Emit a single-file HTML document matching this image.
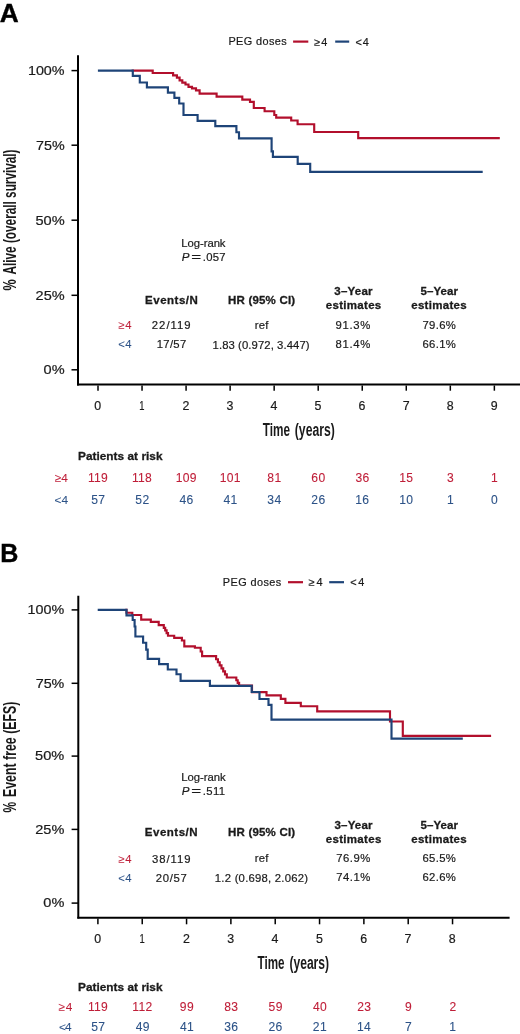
<!DOCTYPE html>
<html><head><meta charset="utf-8"><title>Kaplan-Meier curves</title>
<style>
html,body{margin:0;padding:0;background:#fff;}
body{width:520px;height:1034px;overflow:hidden;}
svg{display:block;will-change:transform;font-family:"Liberation Sans",sans-serif;fill:#1a1a1a;}

</style></head><body>
<svg width="520" height="1034" viewBox="0 0 520 1034" fill="#1a1a1a">
<text x="-0.36" y="21.60" font-size="25.8" textLength="18.97" lengthAdjust="spacingAndGlyphs" font-weight="bold" fill="#000" stroke="#000" stroke-width="0.4">A</text>
<text x="228.43" y="45.20" font-size="10.9" textLength="58.23" lengthAdjust="spacing" stroke="#1a1a1a" stroke-width="0.2">PEG doses</text>
<line x1="293.1" y1="41.6" x2="308.3" y2="41.6" stroke="#b20f2c" stroke-width="2.2"/>
<text x="314.27" y="45.60" font-size="10.9" textLength="13.15" lengthAdjust="spacing" stroke="#1a1a1a" stroke-width="0.2">≥4</text>
<line x1="335.2" y1="41.6" x2="349.2" y2="41.6" stroke="#1e4478" stroke-width="2.2"/>
<text x="355.45" y="45.60" font-size="10.9" textLength="13.37" lengthAdjust="spacing" stroke="#1a1a1a" stroke-width="0.2">&lt;4</text>
<line x1="78" y1="55.3" x2="78" y2="385.5" stroke="#000" stroke-width="2"/>
<line x1="77" y1="384.5" x2="520" y2="384.5" stroke="#000" stroke-width="2"/>
<line x1="71.5" y1="70.6" x2="78" y2="70.6" stroke="#000" stroke-width="1.5"/>
<line x1="71.5" y1="145.2" x2="78" y2="145.2" stroke="#000" stroke-width="1.5"/>
<line x1="71.5" y1="220.2" x2="78" y2="220.2" stroke="#000" stroke-width="1.5"/>
<line x1="71.5" y1="295.3" x2="78" y2="295.3" stroke="#000" stroke-width="1.5"/>
<line x1="71.5" y1="369.8" x2="78" y2="369.8" stroke="#000" stroke-width="1.5"/>
<text x="27.93" y="74.90" font-size="12.6" textLength="36.64" lengthAdjust="spacingAndGlyphs" stroke="#1a1a1a" stroke-width="0.2">100%</text>
<text x="35.98" y="149.50" font-size="12.6" textLength="28.64" lengthAdjust="spacingAndGlyphs" stroke="#1a1a1a" stroke-width="0.2">75%</text>
<text x="35.42" y="224.50" font-size="12.6" textLength="29.22" lengthAdjust="spacingAndGlyphs" stroke="#1a1a1a" stroke-width="0.2">50%</text>
<text x="35.57" y="299.60" font-size="12.6" textLength="29.06" lengthAdjust="spacingAndGlyphs" stroke="#1a1a1a" stroke-width="0.2">25%</text>
<text x="43.62" y="374.10" font-size="12.6" textLength="20.99" lengthAdjust="spacingAndGlyphs" stroke="#1a1a1a" stroke-width="0.2">0%</text>
<line x1="98.0" y1="385.5" x2="98.0" y2="390.7" stroke="#000" stroke-width="1.5"/>
<line x1="142.04" y1="385.5" x2="142.04" y2="390.7" stroke="#000" stroke-width="1.5"/>
<line x1="186.07999999999998" y1="385.5" x2="186.07999999999998" y2="390.7" stroke="#000" stroke-width="1.5"/>
<line x1="230.12" y1="385.5" x2="230.12" y2="390.7" stroke="#000" stroke-width="1.5"/>
<line x1="274.15999999999997" y1="385.5" x2="274.15999999999997" y2="390.7" stroke="#000" stroke-width="1.5"/>
<line x1="318.2" y1="385.5" x2="318.2" y2="390.7" stroke="#000" stroke-width="1.5"/>
<line x1="362.24" y1="385.5" x2="362.24" y2="390.7" stroke="#000" stroke-width="1.5"/>
<line x1="406.28" y1="385.5" x2="406.28" y2="390.7" stroke="#000" stroke-width="1.5"/>
<line x1="450.32" y1="385.5" x2="450.32" y2="390.7" stroke="#000" stroke-width="1.5"/>
<line x1="494.36" y1="385.5" x2="494.36" y2="390.7" stroke="#000" stroke-width="1.5"/>
<text transform="translate(15.60,290.42) rotate(-90)" x="0" y="0" font-weight="bold" font-size="18.4" textLength="11.22" lengthAdjust="spacingAndGlyphs" stroke="#1a1a1a" stroke-width="0">%</text>
<text transform="translate(15.60,274.49) rotate(-90)" x="0" y="0" font-weight="bold" font-size="18.4" textLength="125.04" lengthAdjust="spacingAndGlyphs" stroke="#1a1a1a" stroke-width="0">Alive (overall survival)</text>
<text x="262.78" y="435.60" font-size="18.0" textLength="27.24" lengthAdjust="spacingAndGlyphs" font-weight="bold">Time</text>
<text x="294.79" y="435.60" font-size="18.0" textLength="40.02" lengthAdjust="spacingAndGlyphs" font-weight="bold">(years)</text>
<path d="M131.6 70.6 H152.7 V73.0 H173.1 V75.3 H176.9 V77.6 H179.6 V80.3 H182.3 V82.6 H185.5 V84.5 H188.5 V86.8 H192 V88.4 H196 V90.3 H199.6 V93.6 H216.6 V96.6 H242.3 V99.6 H250 V101.9 H253.8 V108 H264.6 V111.2 H274.3 V115 H276.2 V117.6 H291.2 V120.5 H297.6 V124.2 H314.2 V132 H358.2 V138.1 H499.8" fill="none" stroke="#b20f2c" stroke-width="2.15" stroke-linejoin="miter" stroke-linecap="butt"/>
<path d="M97.9 70.6 H132.8 V75.8 H139.8 V82.5 H146.9 V87.4 H167.9 V92.6 H174.4 V97.8 H179.2 V103.5 H183.5 V115 H197.6 V120.8 H215.3 V126.1 H236.4 V132.2 H239 V138.3 H271.6 V151.3 H272.9 V156.9 H297.7 V163.9 H310.2 V171.8 H482.7" fill="none" stroke="#1e4478" stroke-width="2.15" stroke-linejoin="miter" stroke-linecap="butt"/>
<text x="181.20" y="247.30" font-size="11.3" textLength="44.33" lengthAdjust="spacing" stroke="#1a1a1a" stroke-width="0.2">Log-rank</text>
<text x="181.85" y="261.00" font-size="11.3" textLength="7.73" lengthAdjust="spacingAndGlyphs" font-style="italic" stroke="#1a1a1a" stroke-width="0.2">P</text>
<text x="191.15" y="261.00" font-size="11.3" textLength="9.87" lengthAdjust="spacingAndGlyphs" stroke="#1a1a1a" stroke-width="0.2">=</text>
<text x="202.78" y="261.00" font-size="11.3" textLength="22.80" lengthAdjust="spacing" stroke="#1a1a1a" stroke-width="0.2">.057</text>
<text x="145.05" y="303.50" font-size="11.5" textLength="52.85" lengthAdjust="spacing" font-weight="bold" stroke="#1a1a1a" stroke-width="0.3">Events/N</text>
<text x="228.05" y="303.70" font-size="11.5" textLength="67.09" lengthAdjust="spacing" font-weight="bold" stroke="#1a1a1a" stroke-width="0.3">HR (95% CI)</text>
<text x="334.31" y="295.00" font-size="11.5" textLength="38.17" lengthAdjust="spacing" font-weight="bold" stroke="#1a1a1a" stroke-width="0.3">3–Year</text>
<text x="325.74" y="309.20" font-size="11.5" textLength="55.51" lengthAdjust="spacing" font-weight="bold" stroke="#1a1a1a" stroke-width="0.3">estimates</text>
<text x="420.55" y="295.00" font-size="11.5" textLength="37.43" lengthAdjust="spacing" font-weight="bold" stroke="#1a1a1a" stroke-width="0.3">5–Year</text>
<text x="411.24" y="309.20" font-size="11.5" textLength="55.41" lengthAdjust="spacing" font-weight="bold" stroke="#1a1a1a" stroke-width="0.3">estimates</text>
<text x="118.36" y="329.00" font-size="11.3" textLength="13.08" lengthAdjust="spacing" fill="#bf1e38" stroke="#bf1e38" stroke-width="0.05">≥4</text>
<text x="151.84" y="329.00" font-size="11.3" textLength="38.67" lengthAdjust="spacing" stroke="#1a1a1a" stroke-width="0.2">22/119</text>
<text x="254.67" y="328.80" font-size="11.3" textLength="13.80" lengthAdjust="spacing" stroke="#1a1a1a" stroke-width="0.2">ref</text>
<text x="335.49" y="329.20" font-size="11.3" textLength="34.71" lengthAdjust="spacing" stroke="#1a1a1a" stroke-width="0.2">91.3%</text>
<text x="422.44" y="329.20" font-size="11.3" textLength="33.37" lengthAdjust="spacing" stroke="#1a1a1a" stroke-width="0.2">79.6%</text>
<text x="118.14" y="348.40" font-size="11.3" textLength="13.31" lengthAdjust="spacing" fill="#2c5287" stroke="#2c5287" stroke-width="0.05">&lt;4</text>
<text x="156.75" y="348.40" font-size="11.3" textLength="29.44" lengthAdjust="spacing" stroke="#1a1a1a" stroke-width="0.2">17/57</text>
<text x="212.55" y="348.50" font-size="11.3" textLength="97.04" lengthAdjust="spacing" stroke="#1a1a1a" stroke-width="0.2">1.83 (0.972, 3.447)</text>
<text x="335.49" y="348.30" font-size="11.3" textLength="34.71" lengthAdjust="spacing" stroke="#1a1a1a" stroke-width="0.2">81.4%</text>
<text x="422.44" y="348.30" font-size="11.3" textLength="33.37" lengthAdjust="spacing" stroke="#1a1a1a" stroke-width="0.2">66.1%</text>
<text x="94.36" y="409.70" font-size="12.4" textLength="6.90" lengthAdjust="spacingAndGlyphs" stroke="#1a1a1a" stroke-width="0.2">0</text>
<text x="139.33" y="409.70" font-size="12.4" textLength="5.24" lengthAdjust="spacingAndGlyphs" stroke="#1a1a1a" stroke-width="0.2">1</text>
<text x="182.44" y="409.70" font-size="12.4" textLength="6.90" lengthAdjust="spacingAndGlyphs" stroke="#1a1a1a" stroke-width="0.2">2</text>
<text x="226.51" y="409.70" font-size="12.4" textLength="6.90" lengthAdjust="spacingAndGlyphs" stroke="#1a1a1a" stroke-width="0.2">3</text>
<text x="270.55" y="409.70" font-size="12.4" textLength="6.90" lengthAdjust="spacingAndGlyphs" stroke="#1a1a1a" stroke-width="0.2">4</text>
<text x="314.56" y="409.70" font-size="12.4" textLength="6.90" lengthAdjust="spacingAndGlyphs" stroke="#1a1a1a" stroke-width="0.2">5</text>
<text x="358.57" y="409.70" font-size="12.4" textLength="6.90" lengthAdjust="spacingAndGlyphs" stroke="#1a1a1a" stroke-width="0.2">6</text>
<text x="402.64" y="409.70" font-size="12.4" textLength="6.90" lengthAdjust="spacingAndGlyphs" stroke="#1a1a1a" stroke-width="0.2">7</text>
<text x="446.65" y="409.70" font-size="12.4" textLength="6.90" lengthAdjust="spacingAndGlyphs" stroke="#1a1a1a" stroke-width="0.2">8</text>
<text x="490.72" y="409.70" font-size="12.4" textLength="6.90" lengthAdjust="spacingAndGlyphs" stroke="#1a1a1a" stroke-width="0.2">9</text>
<text x="77.98" y="459.60" font-size="11.8" textLength="84.51" lengthAdjust="spacing" font-weight="bold" stroke="#1a1a1a" stroke-width="0.3">Patients at risk</text>
<text x="54.85" y="481.90" font-size="11.8" textLength="12.91" lengthAdjust="spacing" fill="#bf1e38" stroke="#bf1e38" stroke-width="0.05">≥4</text>
<text x="54.41" y="503.50" font-size="11.8" textLength="13.65" lengthAdjust="spacing" fill="#2c5287" stroke="#2c5287" stroke-width="0.05">&lt;4</text>
<text x="88.00" y="482.00" font-size="12.1" textLength="19.83" lengthAdjust="spacing" fill="#bf1e38" stroke="#bf1e38" stroke-width="0.1">119</text>
<text x="132.01" y="482.00" font-size="12.1" textLength="19.83" lengthAdjust="spacing" fill="#bf1e38" stroke="#bf1e38" stroke-width="0.1">118</text>
<text x="175.64" y="482.00" font-size="12.1" textLength="20.75" lengthAdjust="spacing" fill="#bf1e38" stroke="#bf1e38" stroke-width="0.1">109</text>
<text x="219.68" y="482.00" font-size="12.1" textLength="20.75" lengthAdjust="spacing" fill="#bf1e38" stroke="#bf1e38" stroke-width="0.1">101</text>
<text x="267.36" y="482.00" font-size="12.1" textLength="13.83" lengthAdjust="spacing" fill="#bf1e38" stroke="#bf1e38" stroke-width="0.1">81</text>
<text x="311.34" y="482.00" font-size="12.1" textLength="13.83" lengthAdjust="spacing" fill="#bf1e38" stroke="#bf1e38" stroke-width="0.1">60</text>
<text x="355.47" y="482.00" font-size="12.1" textLength="13.83" lengthAdjust="spacing" fill="#bf1e38" stroke="#bf1e38" stroke-width="0.1">36</text>
<text x="399.27" y="482.00" font-size="12.1" textLength="13.82" lengthAdjust="spacing" fill="#bf1e38" stroke="#bf1e38" stroke-width="0.1">15</text>
<text x="447.09" y="482.00" font-size="12.1" textLength="6.73" lengthAdjust="spacingAndGlyphs" fill="#bf1e38" stroke="#bf1e38" stroke-width="0.1">3</text>
<text x="490.92" y="482.00" font-size="12.1" textLength="6.73" lengthAdjust="spacingAndGlyphs" fill="#bf1e38" stroke="#bf1e38" stroke-width="0.1">1</text>
<text x="91.26" y="503.60" font-size="12.1" textLength="13.83" lengthAdjust="spacing" fill="#2c5287" stroke="#2c5287" stroke-width="0.1">57</text>
<text x="135.30" y="503.60" font-size="12.1" textLength="13.83" lengthAdjust="spacing" fill="#2c5287" stroke="#2c5287" stroke-width="0.1">52</text>
<text x="179.40" y="503.60" font-size="12.1" textLength="13.84" lengthAdjust="spacing" fill="#2c5287" stroke="#2c5287" stroke-width="0.1">46</text>
<text x="223.44" y="503.60" font-size="12.1" textLength="13.84" lengthAdjust="spacing" fill="#2c5287" stroke="#2c5287" stroke-width="0.1">41</text>
<text x="267.30" y="503.60" font-size="12.1" textLength="13.84" lengthAdjust="spacing" fill="#2c5287" stroke="#2c5287" stroke-width="0.1">34</text>
<text x="311.37" y="503.60" font-size="12.1" textLength="13.83" lengthAdjust="spacing" fill="#2c5287" stroke="#2c5287" stroke-width="0.1">26</text>
<text x="355.26" y="503.60" font-size="12.1" textLength="13.82" lengthAdjust="spacing" fill="#2c5287" stroke="#2c5287" stroke-width="0.1">16</text>
<text x="399.27" y="503.60" font-size="12.1" textLength="13.82" lengthAdjust="spacing" fill="#2c5287" stroke="#2c5287" stroke-width="0.1">10</text>
<text x="446.88" y="503.60" font-size="12.1" textLength="6.73" lengthAdjust="spacingAndGlyphs" fill="#2c5287" stroke="#2c5287" stroke-width="0.1">1</text>
<text x="491.10" y="503.60" font-size="12.1" textLength="6.73" lengthAdjust="spacingAndGlyphs" fill="#2c5287" stroke="#2c5287" stroke-width="0.1">0</text>
<text x="0.37" y="562.20" font-size="26.2" textLength="18.11" lengthAdjust="spacingAndGlyphs" font-weight="bold" fill="#000" stroke="#000" stroke-width="0.4">B</text>
<text x="222.83" y="585.60" font-size="10.9" textLength="58.33" lengthAdjust="spacing" stroke="#1a1a1a" stroke-width="0.2">PEG doses</text>
<line x1="288.0" y1="582.2" x2="303.0" y2="582.2" stroke="#b20f2c" stroke-width="2.2"/>
<text x="308.87" y="586.00" font-size="10.9" textLength="13.65" lengthAdjust="spacing" stroke="#1a1a1a" stroke-width="0.2">≥4</text>
<line x1="329.2" y1="582.2" x2="344.0" y2="582.2" stroke="#1e4478" stroke-width="2.2"/>
<text x="350.25" y="586.00" font-size="10.9" textLength="14.07" lengthAdjust="spacing" stroke="#1a1a1a" stroke-width="0.2">&lt;4</text>
<line x1="78.3" y1="595.7" x2="78.3" y2="918.5" stroke="#000" stroke-width="2"/>
<line x1="77.3" y1="917.7" x2="509.6" y2="917.7" stroke="#000" stroke-width="2"/>
<line x1="71.6" y1="609.9" x2="78" y2="609.9" stroke="#000" stroke-width="1.5"/>
<line x1="71.6" y1="683.3" x2="78" y2="683.3" stroke="#000" stroke-width="1.5"/>
<line x1="71.6" y1="756.1" x2="78" y2="756.1" stroke="#000" stroke-width="1.5"/>
<line x1="71.6" y1="829.4" x2="78" y2="829.4" stroke="#000" stroke-width="1.5"/>
<line x1="71.6" y1="903.1" x2="78" y2="903.1" stroke="#000" stroke-width="1.5"/>
<text x="27.63" y="614.20" font-size="12.6" textLength="36.64" lengthAdjust="spacingAndGlyphs" stroke="#1a1a1a" stroke-width="0.2">100%</text>
<text x="35.68" y="687.60" font-size="12.6" textLength="28.64" lengthAdjust="spacingAndGlyphs" stroke="#1a1a1a" stroke-width="0.2">75%</text>
<text x="35.12" y="760.40" font-size="12.6" textLength="29.22" lengthAdjust="spacingAndGlyphs" stroke="#1a1a1a" stroke-width="0.2">50%</text>
<text x="35.27" y="833.70" font-size="12.6" textLength="29.06" lengthAdjust="spacingAndGlyphs" stroke="#1a1a1a" stroke-width="0.2">25%</text>
<text x="43.32" y="907.40" font-size="12.6" textLength="20.99" lengthAdjust="spacingAndGlyphs" stroke="#1a1a1a" stroke-width="0.2">0%</text>
<line x1="97.9" y1="918.5" x2="97.9" y2="924.3" stroke="#000" stroke-width="1.5"/>
<line x1="142.23000000000002" y1="918.5" x2="142.23000000000002" y2="924.3" stroke="#000" stroke-width="1.5"/>
<line x1="186.56" y1="918.5" x2="186.56" y2="924.3" stroke="#000" stroke-width="1.5"/>
<line x1="230.89000000000001" y1="918.5" x2="230.89000000000001" y2="924.3" stroke="#000" stroke-width="1.5"/>
<line x1="275.22" y1="918.5" x2="275.22" y2="924.3" stroke="#000" stroke-width="1.5"/>
<line x1="319.54999999999995" y1="918.5" x2="319.54999999999995" y2="924.3" stroke="#000" stroke-width="1.5"/>
<line x1="363.88" y1="918.5" x2="363.88" y2="924.3" stroke="#000" stroke-width="1.5"/>
<line x1="408.21000000000004" y1="918.5" x2="408.21000000000004" y2="924.3" stroke="#000" stroke-width="1.5"/>
<line x1="452.53999999999996" y1="918.5" x2="452.53999999999996" y2="924.3" stroke="#000" stroke-width="1.5"/>
<text transform="translate(15.60,812.40) rotate(-90)" x="0" y="0" font-weight="bold" font-size="18.4" textLength="10.69" lengthAdjust="spacingAndGlyphs" stroke="#1a1a1a" stroke-width="0">%</text>
<text transform="translate(15.60,797.00) rotate(-90)" x="0" y="0" font-weight="bold" font-size="18.4" textLength="95.41" lengthAdjust="spacingAndGlyphs" stroke="#1a1a1a" stroke-width="0">Event free (EFS)</text>
<text x="257.48" y="969.30" font-size="18.0" textLength="27.04" lengthAdjust="spacingAndGlyphs" font-weight="bold">Time</text>
<text x="289.39" y="969.30" font-size="18.0" textLength="39.71" lengthAdjust="spacingAndGlyphs" font-weight="bold">(years)</text>
<path d="M125.3 609.8 H126.5 V612.7 H132.3 V615 H141.2 V619.6 H150.8 V621.9 H158.7 V625.1 H163.8 V627.8 H165.2 V630.4 H166.6 V633.1 H168.0 V635.7 H169.4 H174.2 V637.9 H181.9 V640.5 H184.3 V646.3 H194.9 V647.7 H200.7 V651.5 H202.1 V656.1 H216.1 V659.2 H217.9 V662.2 H219.7 V665.3 H221.5 V668.3 H223.2 V671.4 H225.0 V674.4 H226.8 V677.5 H228.6 H236.3 V680.2 H237.7 V682.8 H239.1 V685.5 H240.5 H252 V692.1 H266.5 V695.4 H280.8 V698.8 H285.4 V702.8 H300.8 V706.2 H317.2 V711.3 H390 V721.5 H402.8 V735.8 H491.1" fill="none" stroke="#b20f2c" stroke-width="2.15" stroke-linejoin="miter" stroke-linecap="butt"/>
<path d="M97.7 609.8 H126.5 V615.4 H132.7 V620 H134.6 V626.5 H135.4 V636.5 H143.1 V642.7 H146.2 V649.6 H147.7 V658.8 H159.1 V664.1 H167.8 V669.5 H176.5 V674.2 H180.6 V680.8 H209.9 V685.9 H251.7 V692.0 H259.5 V699 H268.5 V704.9 H271.5 V719.6 H391.5 V738.6 H462.8" fill="none" stroke="#1e4478" stroke-width="2.15" stroke-linejoin="miter" stroke-linecap="butt"/>
<text x="181.20" y="781.40" font-size="11.3" textLength="44.53" lengthAdjust="spacing" stroke="#1a1a1a" stroke-width="0.2">Log-rank</text>
<text x="181.85" y="794.80" font-size="11.3" textLength="7.73" lengthAdjust="spacingAndGlyphs" font-style="italic" stroke="#1a1a1a" stroke-width="0.2">P</text>
<text x="191.15" y="794.80" font-size="11.3" textLength="9.87" lengthAdjust="spacingAndGlyphs" stroke="#1a1a1a" stroke-width="0.2">=</text>
<text x="202.78" y="794.80" font-size="11.3" textLength="22.25" lengthAdjust="spacing" stroke="#1a1a1a" stroke-width="0.2">.511</text>
<text x="144.85" y="835.90" font-size="11.5" textLength="52.75" lengthAdjust="spacing" font-weight="bold" stroke="#1a1a1a" stroke-width="0.3">Events/N</text>
<text x="228.05" y="835.80" font-size="11.5" textLength="67.09" lengthAdjust="spacing" font-weight="bold" stroke="#1a1a1a" stroke-width="0.3">HR (95% CI)</text>
<text x="334.51" y="829.00" font-size="11.5" textLength="37.97" lengthAdjust="spacing" font-weight="bold" stroke="#1a1a1a" stroke-width="0.3">3–Year</text>
<text x="325.74" y="843.20" font-size="11.5" textLength="55.61" lengthAdjust="spacing" font-weight="bold" stroke="#1a1a1a" stroke-width="0.3">estimates</text>
<text x="420.55" y="829.00" font-size="11.5" textLength="37.43" lengthAdjust="spacing" font-weight="bold" stroke="#1a1a1a" stroke-width="0.3">5–Year</text>
<text x="411.24" y="843.20" font-size="11.5" textLength="55.41" lengthAdjust="spacing" font-weight="bold" stroke="#1a1a1a" stroke-width="0.3">estimates</text>
<text x="118.36" y="862.90" font-size="11.3" textLength="13.08" lengthAdjust="spacing" fill="#bf1e38" stroke="#bf1e38" stroke-width="0.05">≥4</text>
<text x="151.95" y="862.90" font-size="11.3" textLength="38.55" lengthAdjust="spacing" stroke="#1a1a1a" stroke-width="0.2">38/119</text>
<text x="254.67" y="862.30" font-size="11.3" textLength="13.80" lengthAdjust="spacing" stroke="#1a1a1a" stroke-width="0.2">ref</text>
<text x="336.33" y="862.30" font-size="11.3" textLength="33.87" lengthAdjust="spacing" stroke="#1a1a1a" stroke-width="0.2">76.9%</text>
<text x="422.44" y="862.30" font-size="11.3" textLength="33.37" lengthAdjust="spacing" stroke="#1a1a1a" stroke-width="0.2">65.5%</text>
<text x="118.14" y="882.00" font-size="11.3" textLength="13.31" lengthAdjust="spacing" fill="#2c5287" stroke="#2c5287" stroke-width="0.05">&lt;4</text>
<text x="155.84" y="882.00" font-size="11.3" textLength="30.86" lengthAdjust="spacing" stroke="#1a1a1a" stroke-width="0.2">20/57</text>
<text x="214.85" y="881.50" font-size="11.3" textLength="93.18" lengthAdjust="spacing" stroke="#1a1a1a" stroke-width="0.2">1.2 (0.698, 2.062)</text>
<text x="336.33" y="881.40" font-size="11.3" textLength="33.87" lengthAdjust="spacing" stroke="#1a1a1a" stroke-width="0.2">74.1%</text>
<text x="422.44" y="881.40" font-size="11.3" textLength="33.37" lengthAdjust="spacing" stroke="#1a1a1a" stroke-width="0.2">62.6%</text>
<text x="94.26" y="943.30" font-size="12.4" textLength="6.90" lengthAdjust="spacingAndGlyphs" stroke="#1a1a1a" stroke-width="0.2">0</text>
<text x="139.52" y="943.30" font-size="12.4" textLength="5.24" lengthAdjust="spacingAndGlyphs" stroke="#1a1a1a" stroke-width="0.2">1</text>
<text x="182.92" y="943.30" font-size="12.4" textLength="6.90" lengthAdjust="spacingAndGlyphs" stroke="#1a1a1a" stroke-width="0.2">2</text>
<text x="227.28" y="943.30" font-size="12.4" textLength="6.90" lengthAdjust="spacingAndGlyphs" stroke="#1a1a1a" stroke-width="0.2">3</text>
<text x="271.61" y="943.30" font-size="12.4" textLength="6.90" lengthAdjust="spacingAndGlyphs" stroke="#1a1a1a" stroke-width="0.2">4</text>
<text x="315.91" y="943.30" font-size="12.4" textLength="6.90" lengthAdjust="spacingAndGlyphs" stroke="#1a1a1a" stroke-width="0.2">5</text>
<text x="360.21" y="943.30" font-size="12.4" textLength="6.90" lengthAdjust="spacingAndGlyphs" stroke="#1a1a1a" stroke-width="0.2">6</text>
<text x="404.57" y="943.30" font-size="12.4" textLength="6.90" lengthAdjust="spacingAndGlyphs" stroke="#1a1a1a" stroke-width="0.2">7</text>
<text x="448.87" y="943.30" font-size="12.4" textLength="6.90" lengthAdjust="spacingAndGlyphs" stroke="#1a1a1a" stroke-width="0.2">8</text>
<text x="77.98" y="991.00" font-size="11.8" textLength="84.51" lengthAdjust="spacing" font-weight="bold" stroke="#1a1a1a" stroke-width="0.3">Patients at risk</text>
<text x="58.40" y="1010.75" font-size="11.8" textLength="13.96" lengthAdjust="spacing" fill="#bf1e38" stroke="#bf1e38" stroke-width="0.05">≥4</text>
<text x="58.91" y="1030.75" font-size="11.8" textLength="12.70" lengthAdjust="spacing" fill="#2c5287" stroke="#2c5287" stroke-width="0.05">&lt;4</text>
<text x="88.00" y="1010.90" font-size="12.1" textLength="19.83" lengthAdjust="spacing" fill="#bf1e38" stroke="#bf1e38" stroke-width="0.1">119</text>
<text x="132.36" y="1010.90" font-size="12.1" textLength="19.82" lengthAdjust="spacing" fill="#bf1e38" stroke="#bf1e38" stroke-width="0.1">112</text>
<text x="179.86" y="1010.90" font-size="12.1" textLength="13.83" lengthAdjust="spacing" fill="#bf1e38" stroke="#bf1e38" stroke-width="0.1">99</text>
<text x="224.19" y="1010.90" font-size="12.1" textLength="13.83" lengthAdjust="spacing" fill="#bf1e38" stroke="#bf1e38" stroke-width="0.1">83</text>
<text x="268.55" y="1010.90" font-size="12.1" textLength="13.83" lengthAdjust="spacing" fill="#bf1e38" stroke="#bf1e38" stroke-width="0.1">59</text>
<text x="312.94" y="1010.90" font-size="12.1" textLength="13.84" lengthAdjust="spacing" fill="#bf1e38" stroke="#bf1e38" stroke-width="0.1">40</text>
<text x="357.15" y="1010.90" font-size="12.1" textLength="13.83" lengthAdjust="spacing" fill="#bf1e38" stroke="#bf1e38" stroke-width="0.1">23</text>
<text x="405.05" y="1010.90" font-size="12.1" textLength="6.73" lengthAdjust="spacingAndGlyphs" fill="#bf1e38" stroke="#bf1e38" stroke-width="0.1">9</text>
<text x="449.38" y="1010.90" font-size="12.1" textLength="6.73" lengthAdjust="spacingAndGlyphs" fill="#bf1e38" stroke="#bf1e38" stroke-width="0.1">2</text>
<text x="91.26" y="1030.90" font-size="12.1" textLength="13.83" lengthAdjust="spacing" fill="#2c5287" stroke="#2c5287" stroke-width="0.1">57</text>
<text x="135.65" y="1030.90" font-size="12.1" textLength="13.84" lengthAdjust="spacing" fill="#2c5287" stroke="#2c5287" stroke-width="0.1">49</text>
<text x="179.98" y="1030.90" font-size="12.1" textLength="13.84" lengthAdjust="spacing" fill="#2c5287" stroke="#2c5287" stroke-width="0.1">41</text>
<text x="224.22" y="1030.90" font-size="12.1" textLength="13.83" lengthAdjust="spacing" fill="#2c5287" stroke="#2c5287" stroke-width="0.1">36</text>
<text x="268.49" y="1030.90" font-size="12.1" textLength="13.83" lengthAdjust="spacing" fill="#2c5287" stroke="#2c5287" stroke-width="0.1">26</text>
<text x="312.82" y="1030.90" font-size="12.1" textLength="13.83" lengthAdjust="spacing" fill="#2c5287" stroke="#2c5287" stroke-width="0.1">21</text>
<text x="356.91" y="1030.90" font-size="12.1" textLength="13.82" lengthAdjust="spacing" fill="#2c5287" stroke="#2c5287" stroke-width="0.1">14</text>
<text x="405.05" y="1030.90" font-size="12.1" textLength="6.73" lengthAdjust="spacingAndGlyphs" fill="#2c5287" stroke="#2c5287" stroke-width="0.1">7</text>
<text x="449.20" y="1030.90" font-size="12.1" textLength="6.73" lengthAdjust="spacingAndGlyphs" fill="#2c5287" stroke="#2c5287" stroke-width="0.1">1</text>
</svg>
</body></html>
